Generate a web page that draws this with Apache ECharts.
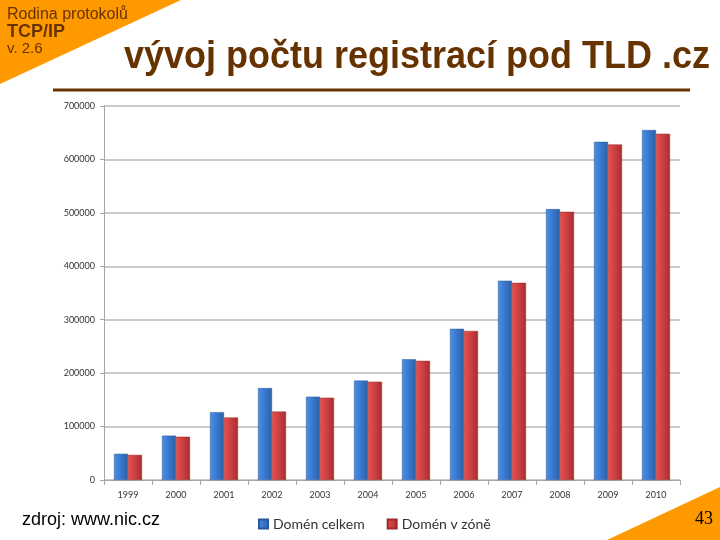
<!DOCTYPE html>
<html>
<head>
<meta charset="utf-8">
<script src="https://cdn.jsdelivr.net/npm/echarts@6/dist/echarts.min.js"></script>
<style>
html,body{margin:0;padding:0;background:#fff;}
#c{width:720px;height:540px;}
</style>
</head>
<body>
<div id="c"></div>
<script>
var years = ['1999','2000','2001','2002','2003','2004','2005','2006','2007','2008','2009','2010'];
var domenCelkem = [49000, 83000, 127000, 172000, 156000, 186000, 226000, 283000, 373000, 507000, 633000, 655000];
var domenVZone = [47000, 81000, 117000, 128000, 154000, 184000, 223000, 279000, 369000, 502000, 628000, 648000];
var yTicks = [0, 100000, 200000, 300000, 400000, 500000, 600000, 700000];

var brown = '#663300';
var orange = '#FF9900';

function grad(c1, c2, c3) {
  return new echarts.graphic.LinearGradient(0, 0, 1, 0, [
    {offset: 0, color: c1}, {offset: 0.35, color: c2}, {offset: 1, color: c3}
  ]);
}
var blueFill = grad('#4b8fe3', '#3d7fd6', '#2c5fa6');
var redFill = grad('#e25252', '#d64343', '#a92e2e');

var chart = echarts.init(document.getElementById('c'), null, {renderer: 'canvas'});
chart.setOption({
  animation: false,
  backgroundColor: '#fff',
  grid: {left: 104, right: 40, top: 106, bottom: 60, containLabel: false},
  legend: {
    bottom: 4, left: 253,
    itemWidth: 9, itemHeight: 9, itemGap: 22,
    icon: 'rect',
    textStyle: {fontFamily: 'Lato, sans-serif', fontSize: 14, color: '#333'},
    data: ['Domén celkem', 'Domén v zóně']
  },
  xAxis: {
    type: 'category',
    data: years,
    axisLine: {lineStyle: {color: '#a6a6a6', width: 1}},
    axisTick: {show: true, length: 5, lineStyle: {color: '#a6a6a6'}},
    axisLabel: {fontFamily: 'Lato, sans-serif', fontSize: 9, color: '#333', margin: 11}
  },
  yAxis: {
    type: 'value',
    min: yTicks[0], max: yTicks[yTicks.length - 1], interval: 100000,
    axisLine: {show: true, lineStyle: {color: '#a6a6a6', width: 1}},
    axisTick: {show: true, length: 4, lineStyle: {color: '#a6a6a6'}},
    splitLine: {lineStyle: {color: '#b8b8b8', width: 1.5}},
    axisLabel: {fontFamily: 'Lato, sans-serif', fontSize: 9, color: '#333', margin: 9,
      formatter: function (v) { return String(v); }}
  },
  series: [
    {
      name: 'Domén celkem', type: 'bar', data: domenCelkem,
      barWidth: 14, barGap: '0%',
      itemStyle: {color: blueFill, borderColor: '#2a5a9e', borderWidth: 0.5}
    },
    {
      name: 'Domén v zóně', type: 'bar', data: domenVZone,
      barWidth: 14, barGap: '0%',
      itemStyle: {color: redFill, borderColor: '#9e2b2b', borderWidth: 0.5}
    }
  ],
  graphic: [
    {type: 'polygon', z: 0, shape: {points: [[0,0],[181,0],[0,84]]}, style: {fill: orange}},
    {type: 'polygon', z: 0, shape: {points: [[607,540],[720,487],[720,540]]}, style: {fill: orange}},
    {type: 'text', x: 7, y: 7, style: {text: 'Rodina protokolů', font: '16px "Liberation Sans", Arial, sans-serif', fill: brown, verticalAlign: 'top'}},
    {type: 'text', x: 7, y: 23, style: {text: 'TCP/IP', font: 'bold 18px "Liberation Sans", Arial, sans-serif', fill: brown, verticalAlign: 'top'}},
    {type: 'text', x: 7, y: 41, style: {text: 'v. 2.6', font: '15px "Liberation Sans", Arial, sans-serif', fill: brown, verticalAlign: 'top'}},
    {type: 'text', x: 710, y: 37, scaleY: 1.1, style: {text: 'vývoj počtu registrací pod TLD .cz', font: 'bold 36px "Liberation Sans", Arial, sans-serif', fill: brown, align: 'right', verticalAlign: 'top'}},
    {type: 'line', shape: {x1: 53, y1: 90, x2: 690, y2: 90}, style: {stroke: brown, lineWidth: 3}},
    {type: 'text', x: 22, y: 511, style: {text: 'zdroj: www.nic.cz', font: '18px "Liberation Sans", Arial, sans-serif', fill: '#000', verticalAlign: 'top'}},
    {type: 'text', x: 695, y: 510, style: {text: '43', font: '18px "Liberation Serif", "Times New Roman", serif', fill: '#000', verticalAlign: 'top'}}
  ]
});
</script>
</body>
</html>
